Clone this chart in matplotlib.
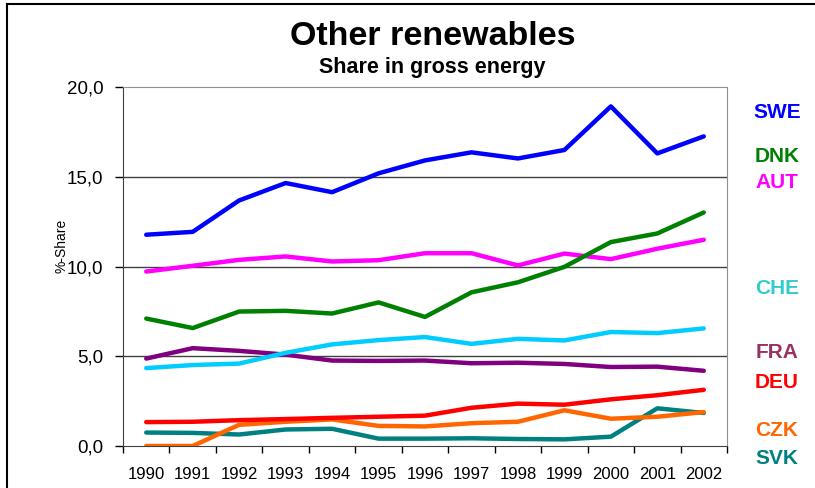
import matplotlib.pyplot as plt
from matplotlib.lines import Line2D

plt.rcParams['font.family'] = ['Liberation Sans', 'DejaVu Sans']

years = ['1990', '1991', '1992', '1993', '1994', '1995', '1996',
         '1997', '1998', '1999', '2000', '2001', '2002']

swe = [11.77, 11.93, 13.68, 14.65, 14.14, 15.19, 15.91, 16.36, 16.02, 16.49, 18.92, 16.30, 17.25]
dnk = [7.10, 6.57, 7.49, 7.53, 7.38, 8.00, 7.19, 8.56, 9.12, 9.98, 11.36, 11.84, 13.01]
aut = [9.72, 10.04, 10.37, 10.56, 10.28, 10.35, 10.74, 10.74, 10.06, 10.72, 10.41, 10.99, 11.49]
che = [4.34, 4.51, 4.59, 5.19, 5.66, 5.90, 6.07, 5.69, 5.97, 5.88, 6.35, 6.29, 6.55]
fra = [4.87, 5.45, 5.30, 5.09, 4.76, 4.74, 4.76, 4.61, 4.64, 4.57, 4.40, 4.42, 4.19]
deu = [1.33, 1.35, 1.44, 1.50, 1.57, 1.63, 1.69, 2.13, 2.36, 2.30, 2.60, 2.83, 3.13]
czk = [0.0, 0.0, 1.18, 1.35, 1.48, 1.12, 1.09, 1.27, 1.35, 1.99, 1.52, 1.63, 1.89]
svk = [0.75, 0.73, 0.64, 0.92, 0.96, 0.41, 0.41, 0.43, 0.39, 0.37, 0.52, 2.10, 1.84]

# (name, values, line colour, label colour, label y in figure px)
series = [
    ('SWE', swe, '#0000FF', '#0000FF', 112),
    ('DNK', dnk, '#008000', '#008000', 156),
    ('AUT', aut, '#FF00FF', '#FF00FF', 183),
    ('CHE', che, '#00CCFF', '#33CCCC', 288),
    ('FRA', fra, '#800080', '#993366', 352),
    ('DEU', deu, '#FF0000', '#FF0000', 382),
    ('CZK', czk, '#FF6600', '#FF6600', 430),
    ('SVK', svk, '#008080', '#008080', 459),
]

W, H = 815, 488
fig = plt.figure(figsize=(W / 100, H / 100), dpi=100)
ax = fig.add_axes([123 / W, 1 - 446 / H, (727 - 123) / W, (446 - 87) / H])

x = list(range(len(years)))
draw_order = ['SVK', 'CZK', 'DEU', 'FRA', 'CHE', 'AUT', 'DNK', 'SWE']
for name in draw_order:
    for n, vals, col, lcol, ly in series:
        if n == name:
            ax.plot(x, vals, color=col, lw=3.2, solid_capstyle='round',
                    solid_joinstyle='round', zorder=3)

for n, vals, col, lcol, ly in series:
    fig.text(777 / W, 1 - ly / H, n, color=lcol, fontsize=15,
             fontweight='bold', ha='center', va='center')

ax.set_xlim(-0.5, len(years) - 0.5)
ax.set_ylim(0, 20)
ax.set_yticks([0, 5, 10, 15, 20])
ax.set_yticklabels(['0,0', '5,0', '10,0', '15,0', '20,0'], fontsize=13.5)
ax.set_xticks(x)
ax.set_xticklabels(years, fontsize=12)
ax.set_xticks([i - 0.5 for i in range(len(years) + 1)], minor=True)
ax.tick_params(axis='x', which='major', length=0, pad=15)
ax.tick_params(axis='x', which='minor', length=5, direction='out', width=1)
ax.tick_params(axis='y', length=6, direction='out', width=1, pad=8)

for v in [5, 10, 15]:
    ax.axhline(v, color='#404040', lw=1, zorder=1)

for side in ['top', 'right']:
    ax.spines[side].set_color('#909090')
for side in ['left', 'bottom']:
    ax.spines[side].set_color('#404040')

fig.text(61 / W, 1 - 246 / H, '%-Share', fontsize=10, rotation=90,
         ha='center', va='center')

fig.text(433 / W, 1 - 45 / H, 'Other renewables', fontsize=24.5,
         fontweight='bold', ha='center', va='baseline')
fig.text(432 / W, 1 - 73 / H, 'Share in gross energy', fontsize=15.5,
         fontweight='bold', ha='center', va='baseline')

# outer frame (cropped at right and bottom)
fig.add_artist(Line2D([7 / W, 1], [1 - 4 / H, 1 - 4 / H], color='black', lw=1.5))
fig.add_artist(Line2D([7 / W, 7 / W], [0, 1 - 4 / H], color='black', lw=1.5))

fig.savefig('out.png', dpi=100)
